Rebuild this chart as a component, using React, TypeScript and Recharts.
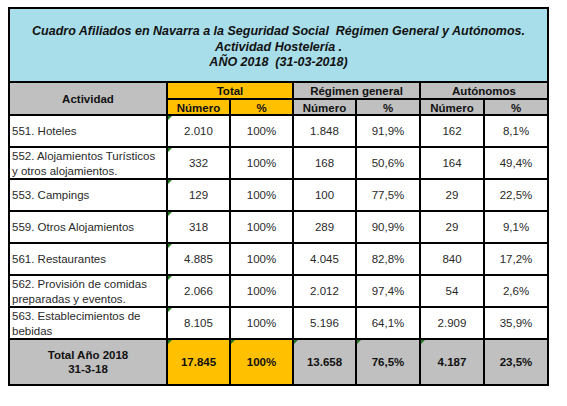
import React from 'react';
import { ComposedChart, Bar, XAxis, YAxis, Customized } from 'recharts';

// ---- data ----
const tituloLineas = [
  'Cuadro Afiliados en Navarra a la Seguridad Social  Régimen General y Autónomos.',
  'Actividad Hostelería .',
  'AÑO 2018  (31-03-2018)',
];
const grupos = ['Total', 'Régimen general', 'Autónomos'];
const subColumnas = ['Número', '%'];
const cabeceraActividad = 'Actividad';

const actividades = [
  ['551. Hoteles'],
  ['552. Alojamientos Turísticos', 'y otros alojamientos.'],
  ['553. Campings'],
  ['559. Otros Alojamientos'],
  ['561. Restaurantes'],
  ['562. Provisión de comidas', 'preparadas y eventos.'],
  ['563. Establecimientos de', 'bebidas'],
];
const totalNumero = [2010, 332, 129, 318, 4885, 2066, 8105];
const totalPct = [100, 100, 100, 100, 100, 100, 100];
const generalNumero = [1848, 168, 100, 289, 4045, 2012, 5196];
const generalPct = [91.9, 50.6, 77.5, 90.9, 82.8, 97.4, 64.1];
const autonomosNumero = [162, 164, 29, 29, 840, 54, 2909];
const autonomosPct = [8.1, 49.4, 22.5, 9.1, 17.2, 2.6, 35.9];

const totalEtiqueta = ['Total Año 2018', '31-3-18'];
const totalFila = { totalNumero: 17845, totalPct: 100, generalNumero: 13658, generalPct: 76.5, autonomosNumero: 4187, autonomosPct: 23.5 };

// ---- formatting ----
const fmtNum = (v: number) => String(v).replace(/\B(?=(\d{3})+(?!\d))/g, '.');
const fmtPct = (v: number) => (v === 100 ? '100%' : v.toFixed(1).replace('.', ',') + '%');

const rows = actividades.map((lineas, i) => ({
  actividad: lineas.join(' '),
  lineas,
  totalNumero: totalNumero[i],
  totalPct: totalPct[i],
  generalNumero: generalNumero[i],
  generalPct: generalPct[i],
  autonomosNumero: autonomosNumero[i],
  autonomosPct: autonomosPct[i],
}));

// ---- styling / layout ----
const FONT = '"Liberation Sans", Arial, sans-serif';
const COLS = [9, 167, 230, 293, 356, 420, 484, 548];
const CYAN = '#A8DEEA';
const GRAY = '#C0C0C0';
const ORANGE = '#FFC000';
const GREEN = '#1E7B1E';
const TEXT = '#2a2a2a';
const TOP = 8;
const TITLE_BOTTOM = 82;
const HDR_MID = 99;
const HDR_BOTTOM = 115;
const TOTAL_TOP = 339;
const TOTAL_BOTTOM = 385;

const cx = (c: number) => (COLS[c] + COLS[c + 1]) / 2;

const Tri = ({ x, y }: { x: number; y: number }) => (
  <polygon points={`${x + 1},${y + 1} ${x + 5},${y + 1} ${x + 1},${y + 5}`} fill={GREEN} />
);

const Cell = ({ x1, x2, y1, y2, fill }: any) => (
  <rect x={x1} y={y1} width={x2 - x1} height={y2 - y1} fill={fill} stroke="#000" strokeWidth={2} />
);

const RowShape = (props: any) => {
  const { y, height, payload } = props;
  const y2 = y + height;
  const mid = y + height / 2;
  const vals = [
    fmtNum(payload.totalNumero),
    fmtPct(payload.totalPct),
    fmtNum(payload.generalNumero),
    fmtPct(payload.generalPct),
    fmtNum(payload.autonomosNumero),
    fmtPct(payload.autonomosPct),
  ];
  const lines: string[] = payload.lineas;
  return (
    <g>
      {COLS.slice(0, -1).map((x, c) => (
        <Cell key={c} x1={x} x2={COLS[c + 1]} y1={y} y2={y2} fill="#fff" />
      ))}
      {lines.map((l, k) => (
        <text
          key={k}
          x={COLS[0] + 3}
          y={mid + (k - (lines.length - 1) / 2) * 15}
          dominantBaseline="central"
          fontFamily={FONT}
          fontSize={11.5}
          fill={TEXT}
        >
          {l}
        </text>
      ))}
      {vals.map((v, c) => (
        <text
          key={c}
          x={cx(c + 1)}
          y={mid}
          textAnchor="middle"
          dominantBaseline="central"
          fontFamily={FONT}
          fontSize={11.5}
          fill={TEXT}
        >
          {v}
        </text>
      ))}
      <Tri x={COLS[1]} y={y} />
    </g>
  );
};

const Frame = () => {
  const groupFills = [ORANGE, GRAY, GRAY];
  const totVals = [
    fmtNum(totalFila.totalNumero),
    fmtPct(totalFila.totalPct),
    fmtNum(totalFila.generalNumero),
    fmtPct(totalFila.generalPct),
    fmtNum(totalFila.autonomosNumero),
    fmtPct(totalFila.autonomosPct),
  ];
  const totMid = (TOTAL_TOP + TOTAL_BOTTOM) / 2;
  return (
    <g>
      <Cell x1={COLS[0]} x2={COLS[7]} y1={TOP} y2={TITLE_BOTTOM} fill={CYAN} />
      {tituloLineas.map((t, k) => (
        <text
          key={k}
          x={(COLS[0] + COLS[7]) / 2}
          y={31 + k * 15.5}
          textAnchor="middle"
          dominantBaseline="central"
          fontFamily={FONT}
          fontSize={12.5}
          fontWeight="bold"
          fontStyle="italic"
          fill="#111"
          style={{ whiteSpace: 'pre' }}
        >
          {t}
        </text>
      ))}
      <Cell x1={COLS[0]} x2={COLS[1]} y1={TITLE_BOTTOM} y2={HDR_BOTTOM} fill={GRAY} />
      <text x={cx(0)} y={(TITLE_BOTTOM + HDR_BOTTOM) / 2} textAnchor="middle" dominantBaseline="central"
        fontFamily={FONT} fontSize={11.5} fontWeight="bold" fill="#111">{cabeceraActividad}</text>
      {grupos.map((g, k) => {
        const x1 = COLS[1 + 2 * k];
        const x2 = COLS[3 + 2 * k];
        return (
          <g key={k}>
            <Cell x1={x1} x2={x2} y1={TITLE_BOTTOM} y2={HDR_MID} fill={groupFills[k]} />
            <text x={(x1 + x2) / 2} y={(TITLE_BOTTOM + HDR_MID) / 2 + 0.5} textAnchor="middle" dominantBaseline="central"
              fontFamily={FONT} fontSize={11.5} fontWeight="bold" fill="#111">{g}</text>
            {subColumnas.map((s, j) => (
              <g key={j}>
                <Cell x1={COLS[1 + 2 * k + j]} x2={COLS[2 + 2 * k + j]} y1={HDR_MID} y2={HDR_BOTTOM} fill={groupFills[k]} />
                <text x={cx(1 + 2 * k + j)} y={(HDR_MID + HDR_BOTTOM) / 2 + 0.5} textAnchor="middle" dominantBaseline="central"
                  fontFamily={FONT} fontSize={11.5} fontWeight="bold" fill="#111">{s}</text>
              </g>
            ))}
          </g>
        );
      })}
      <Cell x1={COLS[0]} x2={COLS[1]} y1={TOTAL_TOP} y2={TOTAL_BOTTOM} fill={GRAY} />
      {totalEtiqueta.map((t, k) => (
        <text key={k} x={cx(0)} y={totMid + (k - 0.5) * 14.5} textAnchor="middle" dominantBaseline="central"
          fontFamily={FONT} fontSize={11.5} fontWeight="bold" fill="#111">{t}</text>
      ))}
      {totVals.map((v, c) => (
        <g key={c}>
          <Cell x1={COLS[c + 1]} x2={COLS[c + 2]} y1={TOTAL_TOP} y2={TOTAL_BOTTOM} fill={c < 2 ? ORANGE : GRAY} />
          <text x={cx(c + 1)} y={totMid} textAnchor="middle" dominantBaseline="central"
            fontFamily={FONT} fontSize={11.5} fontWeight="bold" fill="#111">{v}</text>
          {c < 5 && <Tri x={COLS[c + 1]} y={TOTAL_TOP} />}
        </g>
      ))}
    </g>
  );
};

export default function App() {
  return (
    <div style={{ position: 'absolute', left: 0, top: 0, background: '#fff' }}>
      <ComposedChart
        width={567}
        height={406}
        data={rows}
        layout="vertical"
        margin={{ top: HDR_BOTTOM, bottom: 406 - TOTAL_TOP, left: COLS[0], right: 567 - COLS[7] }}
        barCategoryGap={0}
        barGap={0}
      >
        <XAxis type="number" hide />
        <YAxis type="category" dataKey="actividad" hide />
        <Bar dataKey="totalNumero" isAnimationActive={false} shape={(p: any) => <RowShape {...p} />} />
        <Customized component={Frame} />
      </ComposedChart>
    </div>
  );
}
